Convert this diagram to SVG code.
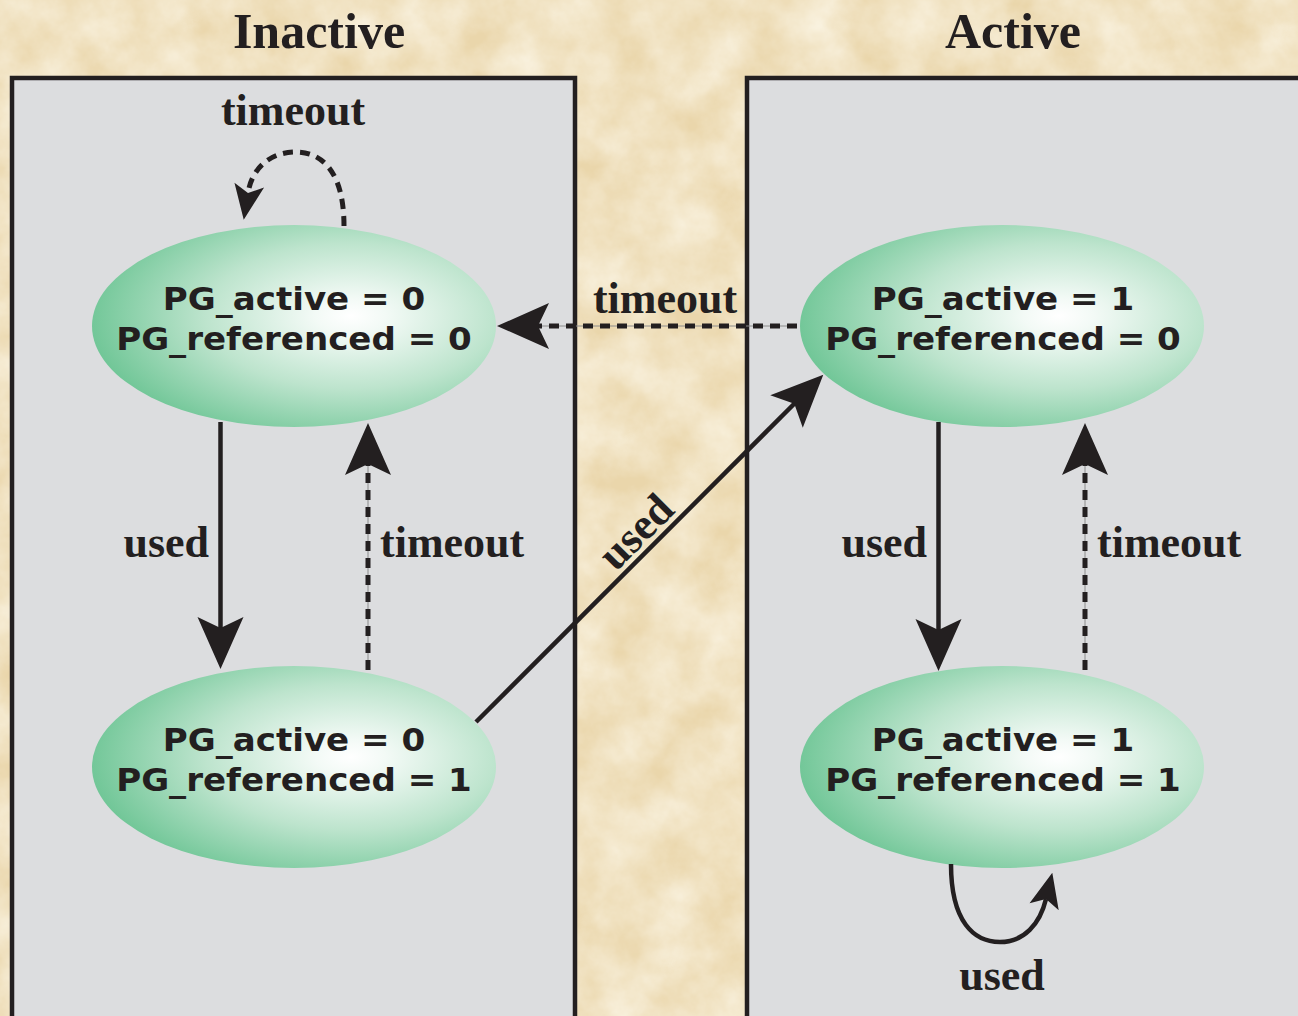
<svg xmlns="http://www.w3.org/2000/svg" width="1298" height="1016" viewBox="0 0 1298 1016">
  <defs>
    <filter id="paper" x="0" y="0" width="100%" height="100%">
      <feTurbulence type="fractalNoise" baseFrequency="0.02" numOctaves="5" seed="7"/>
      <feColorMatrix type="matrix" values="0 0 0 0 0.98  0 0 0 0 0.94  0 0 0 0 0.83  1.1 0 0 0 -0.2"/>
    </filter>
    <radialGradient id="stateFill" cx="0.64" cy="0.45" r="0.72" fx="0.64" fy="0.45">
      <stop offset="0" stop-color="#FFFFFF"/>
      <stop offset="0.12" stop-color="#F3FAF6"/>
      <stop offset="0.5" stop-color="#BDE4CD"/>
      <stop offset="1" stop-color="#5EBF8A"/>
    </radialGradient>
    <marker id="head" markerUnits="userSpaceOnUse" markerWidth="54" markerHeight="46" refX="12" refY="23" orient="auto" overflow="visible">
      <path d="M52,23 L0,0 L11,23 L0,46 Z" fill="#231F20"/>
    </marker>
    <marker id="headSmall" markerUnits="userSpaceOnUse" markerWidth="36" markerHeight="30" refX="8" refY="15" orient="auto" overflow="visible">
      <path d="M35,15 L0,0 L8,15 L0,30 Z" fill="#231F20"/>
    </marker>
    <style>
      .panel { fill: #DCDDDF; stroke: #231F20; stroke-width: 4.5; }
      .state { fill: url(#stateFill); }
      .stateText { font-family: "DejaVu Sans", Verdana, sans-serif; font-weight: bold; font-size: 32px; fill: #231F20; text-anchor: middle; }
      .title { font-family: "Liberation Serif", "Times New Roman", serif; font-weight: bold; font-size: 50px; fill: #231F20; text-anchor: middle; }
      .label { font-family: "Liberation Serif", "Times New Roman", serif; font-weight: bold; font-size: 44px; fill: #231F20; }
      .solid { fill: none; stroke: #231F20; stroke-width: 4.5; }
      .dashed { fill: none; stroke: #231F20; stroke-width: 5; stroke-dasharray: 10 7; }
      .guide { fill: none; stroke: #8C8C8C; stroke-width: 1; }
    </style>
  </defs>

  <!-- parchment background -->
  <rect x="0" y="0" width="1298" height="1016" fill="#EAD6AB"/>
  <rect x="0" y="0" width="1298" height="1016" filter="url(#paper)"/>

  <!-- panels -->
  <rect class="panel" x="12" y="78" width="563" height="960"/>
  <rect class="panel" x="747" y="78" width="570" height="960"/>

  <text class="title" x="319" y="48">Inactive</text>
  <text class="title" x="1013" y="48">Active</text>

  <!-- states (labels widened slightly to Verdana proportions) -->
  <g id="inactive-unref">
    <ellipse class="state" cx="294" cy="326" rx="202" ry="101"/>
    <g transform="translate(294,0) scale(1.065,1)">
      <text class="stateText" x="0" y="310">PG_active = 0</text>
      <text class="stateText" x="0" y="350">PG_referenced = 0</text>
    </g>
  </g>
  <g id="inactive-ref">
    <ellipse class="state" cx="294" cy="767" rx="202" ry="101"/>
    <g transform="translate(294,0) scale(1.065,1)">
      <text class="stateText" x="0" y="751">PG_active = 0</text>
      <text class="stateText" x="0" y="791">PG_referenced = 1</text>
    </g>
  </g>
  <g id="active-unref">
    <ellipse class="state" cx="1002" cy="326" rx="202" ry="101"/>
    <g transform="translate(1003,0) scale(1.065,1)">
      <text class="stateText" x="0" y="310">PG_active = 1</text>
      <text class="stateText" x="0" y="350">PG_referenced = 0</text>
    </g>
  </g>
  <g id="active-ref">
    <ellipse class="state" cx="1002" cy="767" rx="202" ry="101"/>
    <g transform="translate(1003,0) scale(1.065,1)">
      <text class="stateText" x="0" y="751">PG_active = 1</text>
      <text class="stateText" x="0" y="791">PG_referenced = 1</text>
    </g>
  </g>

  <!-- transitions -->
  <g id="connectors">
    <!-- inactive/unreferenced self-loop -->
    <path class="dashed" d="M344,226 C344,172 322,152 296,152 C270,152 252,168 248,193" marker-end="url(#headSmall)"/>
    <text class="label" x="293" y="125" text-anchor="middle">timeout</text>

    <!-- active/unreferenced to inactive/unreferenced -->
    <line class="guide" x1="797" y1="326" x2="540" y2="326"/>
    <path class="dashed" d="M797,326 L537,326" marker-end="url(#head)"/>
    <text class="label" x="665" y="313" text-anchor="middle">timeout</text>

    <!-- inactive column -->
    <path class="solid" d="M220.5,422 L220.5,629" marker-end="url(#head)"/>
    <text class="label" x="209" y="557" text-anchor="end">used</text>
    <line class="guide" x1="368" y1="670" x2="368" y2="466"/>
    <path class="dashed" d="M368,670 L368,463" marker-end="url(#head)"/>
    <text class="label" x="380" y="557">timeout</text>

    <!-- inactive/referenced to active/unreferenced -->
    <path class="solid" d="M476,722 L795,403" marker-end="url(#head)"/>
    <text class="label" text-anchor="middle" transform="translate(646,542) rotate(-45)">used</text>

    <!-- active column -->
    <path class="solid" d="M938.5,422 L938.5,631" marker-end="url(#head)"/>
    <text class="label" x="927" y="557" text-anchor="end">used</text>
    <line class="guide" x1="1085" y1="670" x2="1085" y2="466"/>
    <path class="dashed" d="M1085,670 L1085,463" marker-end="url(#head)"/>
    <text class="label" x="1097" y="557">timeout</text>

    <!-- active/referenced self-loop -->
    <path class="solid" d="M951,864 C951,922 974,942 1000,942 C1024,942 1040,924 1046,899" marker-end="url(#headSmall)"/>
    <text class="label" x="1002" y="990" text-anchor="middle">used</text>
  </g>
</svg>
